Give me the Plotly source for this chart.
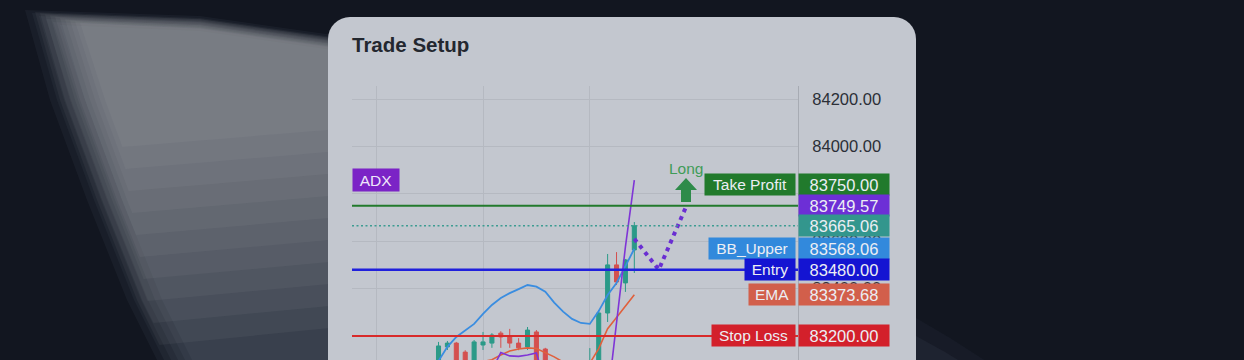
import numpy as np
import plotly.graph_objects as go

# ---------------- data ----------------
candle_idx = list(range(23))
candle_open = [83070, 83154, 83170, 83132, 83070, 83162, 83170, 83212, 83200, 83170, 83154, 83217,
               83145, 83050, 83000, 82990, 83020, 83040, 83085, 83297, 83500, 83424, 83563]
candle_high = [83175, 83179, 83175, 83140, 83183, 83217, 83212, 83220, 83230, 83191, 83238, 83225,
               83150, 83070, 83030, 83040, 83060, 83149, 83310, 83546, 83554, 83525, 83681]
candle_low = [83050, 83141, 83060, 83060, 83050, 83141, 83150, 83150, 83150, 83140, 83141, 83060,
              83030, 82980, 82950, 82960, 83000, 83020, 83070, 83259, 83415, 83386, 83466]
candle_close = [83158, 83170, 83080, 83090, 83175, 83175, 83204, 83196, 83170, 83150, 83225, 83085,
                83060, 83000, 82990, 83020, 83045, 83090, 83297, 83500, 83428, 83521, 83665.06]

bb_upper = [83095, 83154, 83196, 83225, 83251, 83293, 83331, 83360, 83381, 83398, 83415, 83408,
            83387, 83341, 83303, 83272, 83255, 83251, 83305, 83373, 83424, 83495, 83568.06]
ema = [83060, 83065, 83070, 83072, 83078, 83092, 83100, 83120, 83137, 83145, 83150, 83147,
       83130, 83112, 83090, 83075, 83065, 83085, 83147, 83231, 83278, 83324, 83373.68]
adx = [82950, 82950, 82950, 82950, 82950, 82980, 83056, 83130, 83116, 83114, 83120, 83128,
       83000, 82950, 82950, 82950, 82950, 82950, 82950, 82934, 83255, 83576, 83858]

proj_x = [22, 24.75, 27.75]
proj_y = [83610, 83480, 83740]

take_profit = 83750.00
entry = 83480.00
stop_loss = 83200.00
last_price = 83665.06

label_names = ["Take Profit", "", "", "BB_Upper", "Entry", "EMA", "Stop Loss"]
label_values = [83750.00, 83749.57, 83665.06, 83568.06, 83480.00, 83373.68, 83200.00]

y_tick_vals = [83200, 83400, 83600, 83800, 84000, 84200]
x_grid_vals = [-7, 5, 17]

# ---------------- styling ----------------
W, H = 1244, 360
PL, PR, PT, PB = 352, 798, 86, 360
BG = "#121620"
CARD = "#c3c7cf"
GRID = "#b5b9c1"
FONT = "Liberation Sans"
GREEN_C = "#2b9a88"
RED_C = "#d4504f"

label_bg = ["#217a2c", "#6d2fd6", "#33968d", "#3289dc", "#1414d2", "#d25f4b", "#d3202b"]
label_shift = [21, 0, 0, 0, 0, 0, 0]
name_widths = [86, 0, 0, 82, 46, 42, 79]

# decorative light-beam outline (pixels from top-left)
beam_left_x = [25, 50, 87, 127, 157, 172]
beam_left_y = [10, 100, 200, 300, 360, 400]
beam_top = [(200, 16), (340, 36)]


def py(v):
    """pixel-from-top -> background axis coordinate (y up)"""
    return H - v


def poly(points):
    return "M " + " L ".join(f"{x:.1f},{py(y):.1f}" for x, y in points) + " Z"


def beam_polygon(dx, dy, bottom, slant):
    top_y = beam_left_y[0] + dy
    pts = [(beam_left_x[0] + dx, top_y)] + [(x, y + dy) for x, y in beam_top]
    pts.append((340, bottom - slant))
    pts.append((float(np.interp(bottom, beam_left_y, beam_left_x)) + dx, bottom))
    for lx, ly in reversed(list(zip(beam_left_x, beam_left_y))):
        if top_y < ly < bottom:
            pts.append((lx + dx, ly))
    pts.append(pts[0])
    return pts


fig = go.Figure()

# light beam: soft bluish base layers reaching the bottom, then warmer layers fading downwards
layers = []
for k in range(6):
    layers.append((beam_polygon(7 * k, 3 * k, 400, 0), "rgba(150,168,185,0.06)"))
for j in range(10):
    layers.append((beam_polygon(10 + 5 * j, 2 + 1.2 * j, 345 - 22 * j, 18), "rgba(210,208,200,0.06)"))
for pts, col in layers:
    fig.add_trace(go.Scatter(x=[p[0] for p in pts], y=[py(p[1]) for p in pts], mode="none",
                             fill="toself", fillcolor=col, hoverinfo="skip", xaxis="x", yaxis="y"))

# card with rounded top corners
r = 22
a_left = np.linspace(np.pi, np.pi / 2, 9)
a_right = np.linspace(np.pi / 2, 0, 9)
card_x = [328] + list(350 + r * np.cos(a_left)) + list(894 + r * np.cos(a_right)) + [916, 328]
card_y = [400] + list(39 - r * np.sin(a_left)) + list(39 - r * np.sin(a_right)) + [400, 400]
fig.add_trace(go.Scatter(x=card_x, y=[py(v) for v in card_y], mode="none", fill="toself",
                         fillcolor=CARD, hoverinfo="skip", xaxis="x", yaxis="y"))

# chart traces
fig.add_trace(go.Scatter(x=candle_idx, y=bb_upper, mode="lines", line=dict(color="#3a8de0", width=1.8),
                         hoverinfo="skip", xaxis="x2", yaxis="y2"))
fig.add_trace(go.Scatter(x=candle_idx, y=ema, mode="lines", line=dict(color="#e0603c", width=1.6),
                         hoverinfo="skip", xaxis="x2", yaxis="y2"))
fig.add_trace(go.Candlestick(x=candle_idx, open=candle_open, high=candle_high, low=candle_low,
                             close=candle_close, xaxis="x2", yaxis="y2", hoverinfo="skip",
                             increasing=dict(line=dict(color=GREEN_C, width=1), fillcolor=GREEN_C),
                             decreasing=dict(line=dict(color=RED_C, width=1), fillcolor=RED_C)))
fig.add_trace(go.Scatter(x=candle_idx, y=adx, mode="lines", line=dict(color="#7f35d6", width=1.6),
                         hoverinfo="skip", xaxis="x2", yaxis="y2"))
fig.add_trace(go.Scatter(x=proj_x, y=proj_y, mode="lines",
                         line=dict(color="#6a2ed2", width=4, dash="4px,4.5px"),
                         hoverinfo="skip", xaxis="x2", yaxis="y2"))

shapes = []
# faint glow at bottom right of the card
for pts, a in [([(916, 318), (950, 338), (992, 365), (916, 365)], 0.05),
               ([(916, 336), (945, 352), (966, 365), (916, 365)], 0.07)]:
    shapes.append(dict(type="path", xref="x", yref="y", layer="below", path=poly(pts),
                       fillcolor=f"rgba(125,145,175,{a})", line=dict(width=0)))
# level lines
for val, col, w, dash in [(take_profit, "#227a2c", 2, "solid"), (entry, "#2020dc", 2.5, "solid"),
                          (stop_loss, "#d82a2a", 2, "solid"), (last_price, "#3d9c92", 1.5, "2px,2.5px")]:
    shapes.append(dict(type="line", xref="x2 domain", yref="y2", x0=0, x1=1, y0=val, y1=val,
                       layer="above", line=dict(color=col, width=w, dash=dash)))
# long arrow
shapes.append(dict(type="path", xref="x2", yref="y2", xsizemode="pixel", ysizemode="pixel",
                   xanchor=proj_x[-1], yanchor=proj_y[-1], layer="above",
                   path="M 0.5,30 L 11.5,18 L 5.5,18 L 5.5,6 L -4.5,6 L -4.5,18 L -10.5,18 Z",
                   fillcolor="#2e8b4a", line=dict(width=0)))

annotations = []
annotations.append(dict(xref="x", yref="y", x=350, y=py(44), xanchor="left", yanchor="middle",
                        text="<b>Trade Setup</b>", showarrow=False,
                        font=dict(family=FONT, size=20.5, color="#23272f")))
annotations.append(dict(xref="x", yref="y", x=352, y=py(180), xanchor="left", yanchor="middle",
                        text="ADX", showarrow=False, bgcolor="#7b23c6", borderpad=2, width=42, height=18,
                        font=dict(family=FONT, size=15.5, color="#efe6fa")))
annotations.append(dict(xref="x2", yref="y2", x=proj_x[-1], y=proj_y[-1], yshift=40, xshift=0.5,
                        xanchor="center", yanchor="middle", text="Long", showarrow=False,
                        font=dict(family=FONT, size=15.5, color="#3f9c58")))
for name, val, col, sh, nw in zip(label_names, label_values, label_bg, label_shift, name_widths):
    annotations.append(dict(xref="x2 domain", yref="y2", x=1, y=val, xanchor="left", yanchor="middle",
                            yshift=sh, text=f"{val:.2f}", showarrow=False, bgcolor=col, borderpad=2,
                            width=86, height=17, align="center",
                            font=dict(family=FONT, size=16.5, color="#eceef4")))
    if name:
        annotations.append(dict(xref="x2 domain", yref="y2", x=1, y=val, xanchor="right", yanchor="middle",
                                xshift=-2, yshift=sh, text=name, showarrow=False, bgcolor=col, borderpad=2,
                                width=nw, height=17, align="center",
                                font=dict(family=FONT, size=15.5, color="#eceef4")))

fig.update_layout(
    width=W, height=H, margin=dict(l=0, r=0, t=0, b=0),
    paper_bgcolor=BG, plot_bgcolor="rgba(0,0,0,0)", showlegend=False, boxgap=0.35,
    xaxis=dict(domain=[0, 1], range=[0, W], visible=False, fixedrange=True),
    yaxis=dict(domain=[0, 1], range=[0, H], visible=False, fixedrange=True),
    xaxis2=dict(domain=[PL / W, PR / W], range=[-9.72, 40.39], anchor="y2", tickvals=x_grid_vals,
                showticklabels=False, ticks="", showgrid=True, gridcolor=GRID, gridwidth=1,
                zeroline=False, showline=False, rangeslider=dict(visible=False)),
    yaxis2=dict(domain=[0, (PB - PT) / H], range=[83098.7, 84254.85], anchor="x2", side="right",
                tickvals=y_tick_vals, tickformat=".2f", showgrid=True, gridcolor=GRID, gridwidth=1,
                zeroline=False, showline=True, linecolor="#a7abb3", linewidth=1, ticks="",
                ticklabelstandoff=10, tickfont=dict(family=FONT, size=16.5, color="#2b2f37")),
    shapes=shapes, annotations=annotations,
)

fig.write_html("out.html")
